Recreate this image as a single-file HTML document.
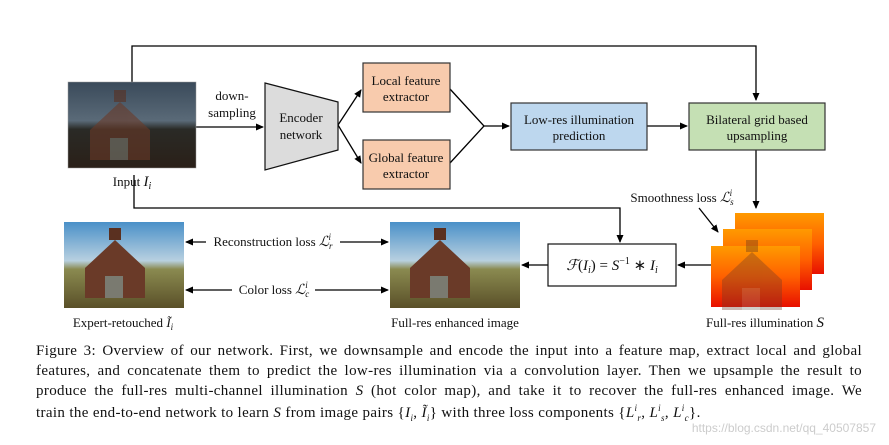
<!DOCTYPE html>
<html><head><meta charset="utf-8"><style>
body{margin:0;background:#fff;width:889px;height:445px;overflow:hidden;position:relative;font-family:"Liberation Serif",serif;}
svg{position:absolute;left:0;top:0}
.cap{position:absolute;left:36px;width:826px;font-size:15px;letter-spacing:0.35px;white-space:nowrap;text-align:justify;text-align-last:justify;color:#111;}
i{font-style:italic}
</style></head><body>
<svg width="889" height="445" viewBox="0 0 889 445" font-family="Liberation Serif, serif" font-size="13">
<defs>
<marker id="a" markerWidth="8" markerHeight="8" refX="7" refY="4" orient="auto" markerUnits="userSpaceOnUse"><path d="M0,0.5 L8,4 L0,7.5z" fill="#000"/></marker>
<linearGradient id="dark" x1="0" y1="0" x2="0" y2="1"><stop offset="0" stop-color="#3a4a5a"/><stop offset="0.45" stop-color="#5a6a78"/><stop offset="0.55" stop-color="#2a2a26"/><stop offset="1" stop-color="#2a2018"/></linearGradient>
<linearGradient id="sky" x1="0" y1="0" x2="0" y2="1"><stop offset="0" stop-color="#4a90c8"/><stop offset="0.45" stop-color="#b8d0e0"/><stop offset="0.55" stop-color="#8a8a50"/><stop offset="1" stop-color="#5a5028"/></linearGradient>
<linearGradient id="hot" x1="0" y1="0" x2="0" y2="1"><stop offset="0" stop-color="#ff9a00"/><stop offset="0.5" stop-color="#ff6000"/><stop offset="1" stop-color="#e81000"/></linearGradient>
<g id="house"><path d="M-30,0 L0,-28 L30,0 L30,30 L-30,30z" fill="#6a3a28"/><rect x="-6" y="-40" width="12" height="12" fill="#5a3020"/><rect x="-10" y="8" width="18" height="22" fill="#7a7a70"/></g>
</defs>
<g stroke="#000" stroke-width="1.3" fill="none">
<polyline points="132,82 132,46 756,46 756,100" marker-end="url(#a)"/>
<polyline points="134,175 134,208 620,208 620,242" marker-end="url(#a)"/>
<line x1="196" y1="127" x2="263" y2="127" marker-end="url(#a)"/>
<line x1="338" y1="125" x2="361" y2="90" marker-end="url(#a)"/>
<line x1="338" y1="125" x2="361" y2="163" marker-end="url(#a)"/>
<polyline points="450,89 484,126 450,163"/>
<line x1="484" y1="126" x2="509" y2="126" marker-end="url(#a)"/>
<line x1="647" y1="126" x2="687" y2="126" marker-end="url(#a)"/>
<line x1="756" y1="150" x2="756" y2="208" marker-end="url(#a)"/>
<line x1="699" y1="208" x2="718" y2="232" marker-end="url(#a)"/>
<line x1="711" y1="265" x2="678" y2="265" marker-end="url(#a)"/>
<line x1="548" y1="265" x2="522" y2="265" marker-end="url(#a)"/>
<line x1="206" y1="242" x2="186" y2="242" marker-end="url(#a)"/>
<line x1="340" y1="242" x2="388" y2="242" marker-end="url(#a)"/>
<line x1="232" y1="290" x2="186" y2="290" marker-end="url(#a)"/>
<line x1="315" y1="290" x2="388" y2="290" marker-end="url(#a)"/>
</g>
<rect x="68" y="82" width="128" height="86" fill="url(#dark)" stroke="#999" stroke-width="0.5"/>
<use href="#house" x="120" y="130" opacity="0.6"/>
<rect x="64" y="222" width="120" height="86" fill="url(#sky)"/>
<use href="#house" x="115" y="268"/>
<rect x="390" y="222" width="130" height="86" fill="url(#sky)"/>
<use href="#house" x="440" y="268"/>
<rect x="735" y="213" width="89" height="61" fill="url(#hot)"/>
<rect x="723" y="229" width="89" height="61" fill="url(#hot)"/>
<rect x="711" y="246" width="89" height="61" fill="url(#hot)"/>
<use href="#house" x="752" y="280" opacity="0.35"/>
<polygon points="265,83 338,102 338,150 265,170" fill="#dcdcdc" stroke="#111" stroke-width="1.2"/>
<rect x="363" y="63" width="87" height="49" fill="#f8cbad" stroke="#333" stroke-width="1.2"/>
<rect x="363" y="140" width="87" height="49" fill="#f8cbad" stroke="#333" stroke-width="1.2"/>
<rect x="511" y="103" width="136" height="47" fill="#bdd7ee" stroke="#333" stroke-width="1.2"/>
<rect x="689" y="103" width="136" height="47" fill="#c5e0b4" stroke="#333" stroke-width="1.2"/>
<rect x="548" y="244" width="128" height="42" fill="#fff" stroke="#111" stroke-width="1.2"/>
<g text-anchor="middle" fill="#111">
<text x="232" y="100">down-</text><text x="232" y="117">sampling</text>
<text x="301" y="122">Encoder</text><text x="301" y="139">network</text>
<text x="406" y="85">Local feature</text><text x="406" y="101">extractor</text>
<text x="406" y="162">Global feature</text><text x="406" y="178">extractor</text>
<text x="579" y="124">Low-res illumination</text><text x="579" y="140">prediction</text>
<text x="757" y="124">Bilateral grid based</text><text x="757" y="140">upsampling</text>
<text x="132" y="186">Input <tspan font-style="italic" font-size="15">I</tspan><tspan font-style="italic" font-size="10" dy="3">i</tspan></text>
<text x="612" y="270" font-size="15"><tspan font-style="italic">ℱ</tspan>(<tspan font-style="italic">I<tspan font-size="10" dy="3">i</tspan></tspan><tspan dy="-3">) = </tspan><tspan font-style="italic">S</tspan><tspan font-size="10" dy="-6">−1</tspan><tspan dy="6"> ∗ </tspan><tspan font-style="italic">I</tspan><tspan font-style="italic" font-size="10" dy="3">i</tspan></text>
<text x="123" y="327">Expert-retouched <tspan font-style="italic">Ĩ</tspan><tspan font-style="italic" font-size="9" dy="3">i</tspan></text>
<text x="455" y="327">Full-res enhanced image</text>
<text x="765" y="327">Full-res illumination <tspan font-style="italic" font-size="15">S</tspan></text>
<text x="273" y="246">Reconstruction loss <tspan font-style="italic" font-size="14">ℒ</tspan><tspan font-style="italic" font-size="9" dy="3">r</tspan><tspan font-style="italic" font-size="9" dx="-4" dy="-9">i</tspan></text>
<text x="274" y="294">Color loss <tspan font-style="italic" font-size="14">ℒ</tspan><tspan font-style="italic" font-size="9" dy="3">c</tspan><tspan font-style="italic" font-size="9" dx="-4" dy="-9">i</tspan></text>
<text x="682" y="202">Smoothness loss <tspan font-style="italic" font-size="14">ℒ</tspan><tspan font-style="italic" font-size="9" dy="3">s</tspan><tspan font-style="italic" font-size="9" dx="-4" dy="-9">i</tspan></text>
</g>
<text x="876" y="432" text-anchor="end" font-family="Liberation Sans, sans-serif" font-size="12" fill="#ccc">https://blog.csdn.net/qq_40507857</text>
</svg>
<div class="cap" style="top:343px">Figure 3: Overview of our network. First, we downsample and encode the input into a feature map, extract local and global</div>
<div class="cap" style="top:363px">features, and concatenate them to predict the low-res illumination via a convolution layer. Then we upsample the result to</div>
<div class="cap" style="top:383px">produce the full-res multi-channel illumination <i>S</i> (hot color map), and take it to recover the full-res enhanced image. We</div>
<div class="cap" style="top:403px;text-align-last:left">train the end-to-end network to learn <i>S</i> from image pairs {<i>I<sub style="font-size:9px">i</sub></i>, <i>Ĩ<sub style="font-size:9px">i</sub></i>} with three loss components {<i>L<sup style="font-size:9px">i</sup><sub style="font-size:9px">r</sub></i>, <i>L<sup style="font-size:9px">i</sup><sub style="font-size:9px">s</sub></i>, <i>L<sup style="font-size:9px">i</sup><sub style="font-size:9px">c</sub></i>}.</div>
</body></html>
